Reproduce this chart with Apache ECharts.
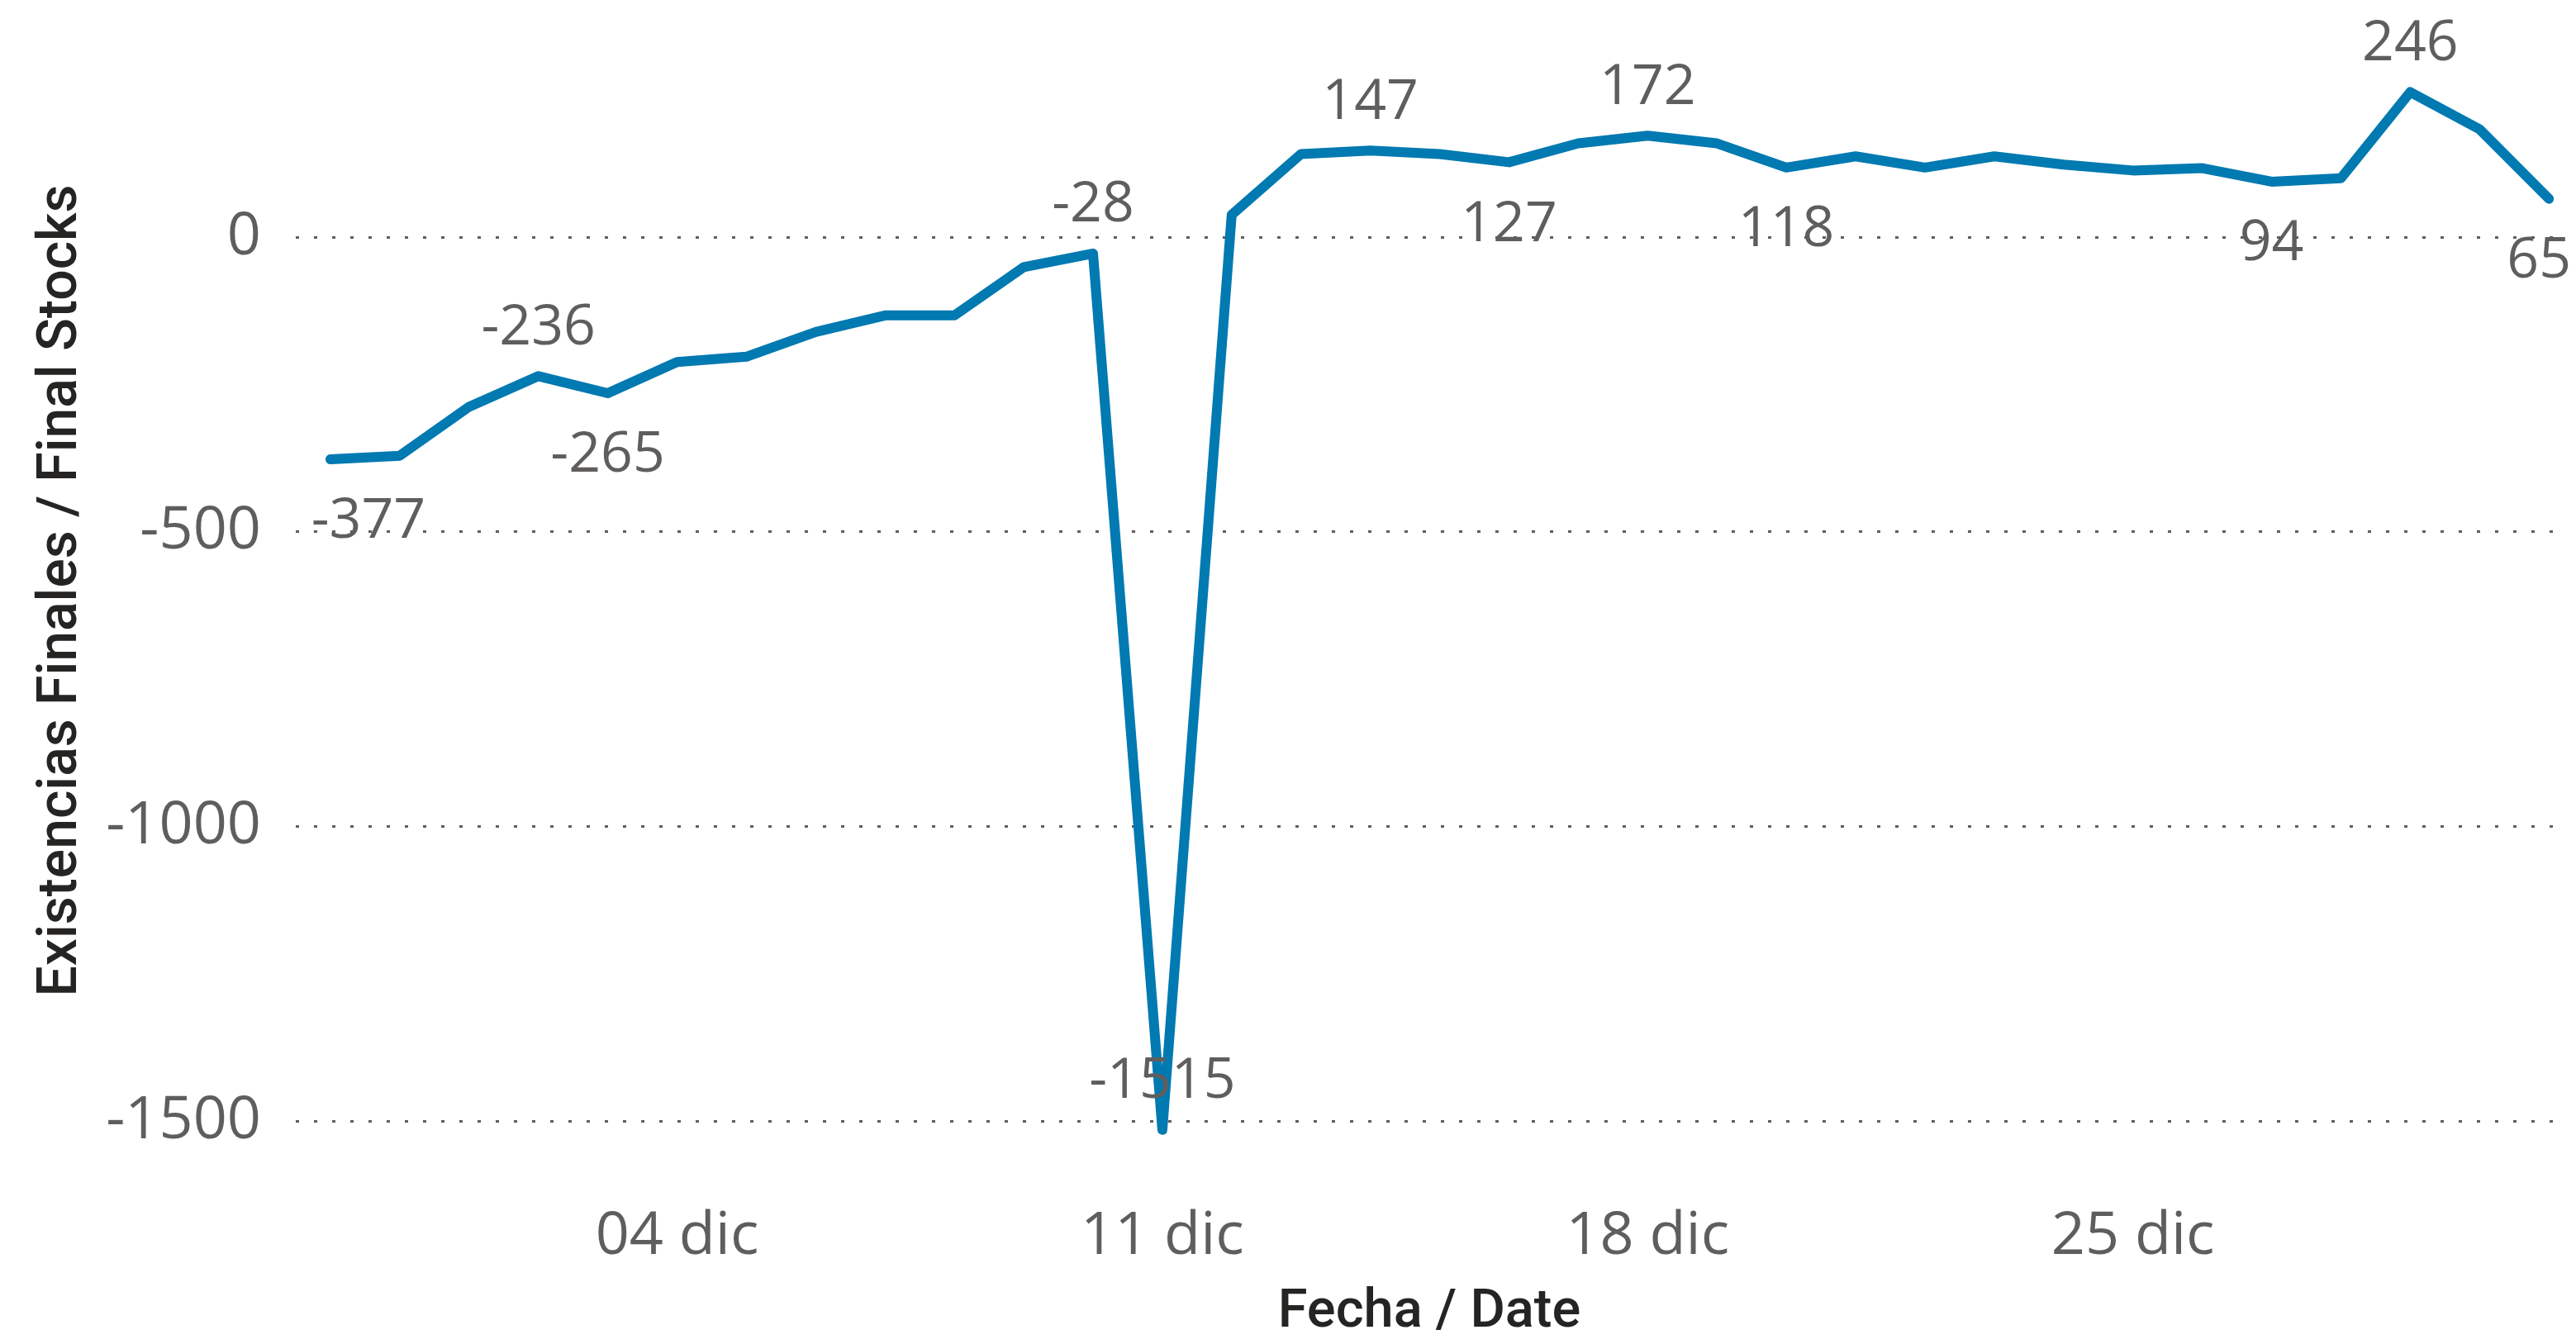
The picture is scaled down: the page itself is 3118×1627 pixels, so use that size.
<!DOCTYPE html>
<html>
<head>
<meta charset="utf-8">
<script src="https://cdn.jsdelivr.net/npm/echarts@6/dist/echarts.min.js"></script>
<style>
  html, body { margin: 0; padding: 0; background: #fff; }
  #stockChart { width: 3118px; height: 1627px; }
</style>
</head>
<body>
<div id="stockChart"></div>
<script>
const dates = [
  '2023-11-29', '2023-11-30', '2023-12-01', '2023-12-02', '2023-12-03',
  '2023-12-04', '2023-12-05', '2023-12-06', '2023-12-07', '2023-12-08',
  '2023-12-09', '2023-12-10', '2023-12-11', '2023-12-12', '2023-12-13',
  '2023-12-14', '2023-12-15', '2023-12-16', '2023-12-17', '2023-12-18',
  '2023-12-19', '2023-12-20', '2023-12-21', '2023-12-22', '2023-12-23',
  '2023-12-24', '2023-12-25', '2023-12-26', '2023-12-27', '2023-12-28',
  '2023-12-29', '2023-12-30', '2023-12-31'
]
const finalStocks = [
  -377, -371, -288, -236, -265, -212, -203, -161, -133, -133, -51, -28, -1515,
  38, 141, 147, 141, 127, 159, 172, 159, 118, 137, 118, 137, 123, 113, 117,
  94, 100, 246, 183, 65
]
const labelsAbove = [3, 11, 12, 15, 19, 30]
const labelsBelow = [0, 4, 17, 21, 28, 32]
const tickDates = ['2023-12-04', '2023-12-11', '2023-12-18', '2023-12-25']
const tickLabels = ['04 dic', '11 dic', '18 dic', '25 dic']
const yTicks = [-1500, -1000, -500, 0]

// days counted from the first date, so the x axis is a plain value axis
const DAY = 86400000
const dayOf = d => Math.round((Date.UTC(...d.split('-').map((n, k) => k === 1 ? n - 1 : +n)) - Date.UTC(2023, 10, 29)) / DAY)
const tickDays = tickDates.map(dayOf)

const labelFont = "'Segoe UI', 'Open Sans', sans-serif"
const titleFont = "'Roboto', 'DejaVu Sans Condensed', sans-serif"

const seriesData = dates.map((d, i) => {
  const item = { value: [dayOf(d), finalStocks[i]] }
  if (labelsAbove.includes(i)) {
    item.label = { show: true, position: 'top', distance: 24 }
  } else if (labelsBelow.includes(i)) {
    item.label = { show: true, position: 'bottom', distance: 42 }
    if (i === 0) item.label.offset = [46, 0]
    if (i === dates.length - 1) item.label.offset = [-12, 0]
  }
  return item
})

const chart = echarts.init(document.getElementById('stockChart'))
chart.setOption({
  animation: false,
  grid: {
    left: 358,
    right: 16,
    top: 73,
    bottom: 269
  },
  xAxis: {
    type: 'value',
    min: -0.5,
    max: dayOf(dates[dates.length - 1]) + 0.2,
    name: 'Fecha / Date',
    nameLocation: 'middle',
    nameGap: 200,
    nameTextStyle: {
      fontFamily: titleFont,
      fontWeight: 500,
      fontSize: 65,
      color: '#252423'
    },
    axisLine: { show: false },
    axisTick: { show: false },
    splitLine: { show: false },
    axisLabel: {
      customValues: tickDays,
      margin: 104,
      fontFamily: labelFont,
      fontSize: 72,
      color: '#605E5C',
      formatter: v => tickLabels[tickDays.indexOf(v)] || ''
    }
  },
  yAxis: {
    type: 'value',
    min: -1500,
    max: 300,
    interval: 500,
    name: 'Existencias Finales / Final Stocks',
    nameLocation: 'middle',
    nameGap: 250,
    nameTextStyle: {
      fontFamily: titleFont,
      fontWeight: 500,
      fontSize: 66,
      color: '#252423'
    },
    axisLine: { show: false },
    axisTick: { show: false },
    axisLabel: {
      margin: 42,
      fontFamily: labelFont,
      fontSize: 72,
      color: '#605E5C',
      showMaxLabel: false,
      formatter: v => (yTicks.includes(v) ? String(v) : '')
    },
    splitLine: {
      show: true,
      showMaxLine: false,
      lineStyle: {
        color: '#605E5C',
        width: 3,
        type: [4, 18]
      }
    }
  },
  series: [
    {
      name: 'Existencias Finales',
      type: 'line',
      clip: false,
      data: seriesData,
      symbol: 'circle',
      symbolSize: 0.01,
      showSymbol: true,
      lineStyle: {
        color: '#0179B1',
        width: 12,
        cap: 'round',
        join: 'round'
      },
      itemStyle: { color: '#0179B1' },
      label: {
        show: false,
        fontFamily: labelFont,
        fontSize: 68,
        color: '#605E5C',
        formatter: p => String(p.value[1])
      }
    }
  ]
})
</script>
</body>
</html>
